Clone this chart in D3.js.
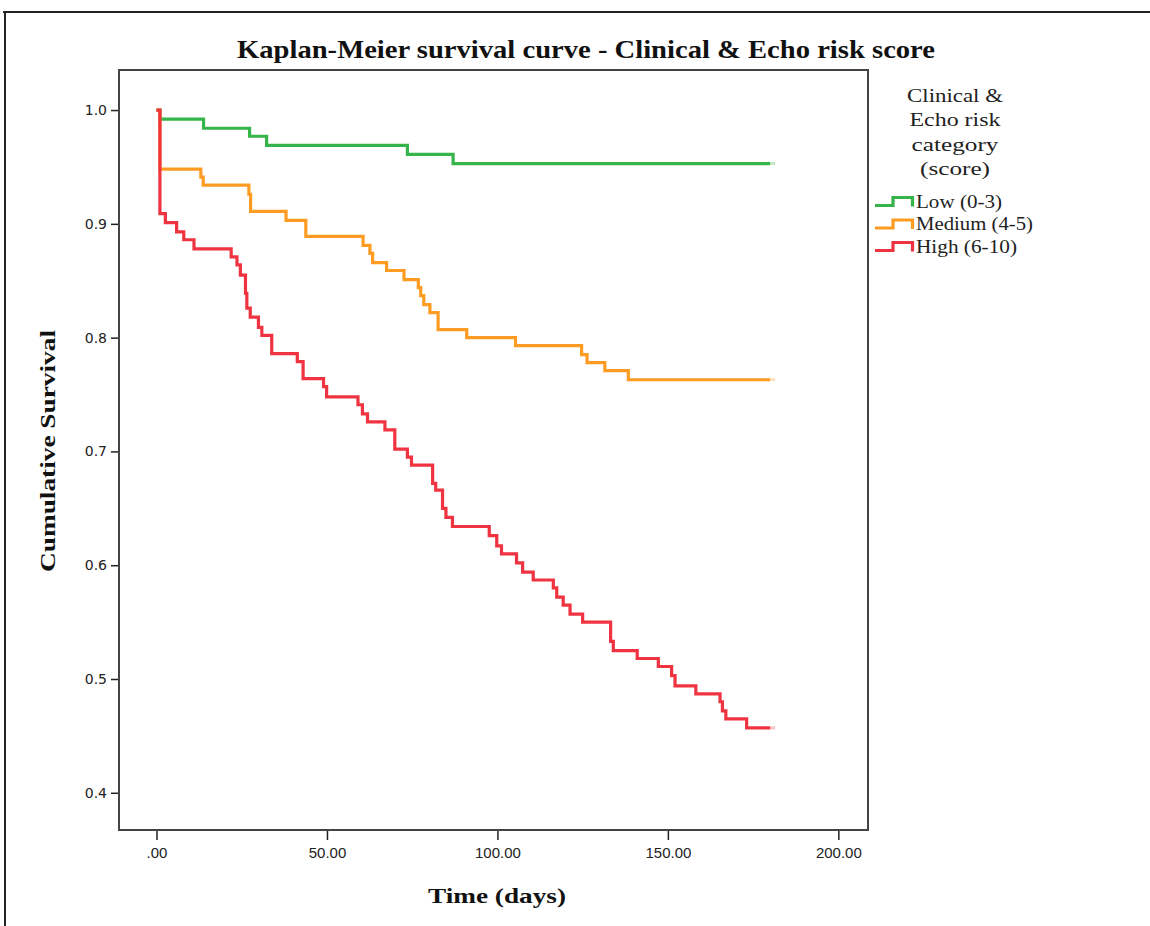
<!DOCTYPE html>
<html><head><meta charset="utf-8">
<script src="https://cdn.jsdelivr.net/npm/d3@7"></script>
<style>body{margin:0;background:#fff}svg{display:block}</style>
</head><body><svg id="c" width="1150" height="926"></svg>
<script>
// ---- data ----
const seriesNames = ["Low (0-3)", "Medium (4-5)", "High (6-10)"];
const seriesColors = ["#35b44a", "#fd9b23", "#ef3340"];
const lowTimes = [0, 1, 13.8, 27.3, 32.3, 73.6, 87, 180];
const lowSurv  = [1, 0.992, 0.984, 0.977, 0.969, 0.961, 0.953, 0.953];
const medTimes = [0, 1, 13, 13.7, 27.1, 27.6, 38, 43.8, 60.6, 62.6, 63.4, 67.5, 72.6, 76.8, 77.5, 78.4, 80.2, 82.6, 91, 105.3, 124.7, 126.3, 131.5, 138.4, 180];
const medSurv  = [1, 0.948, 0.941, 0.934, 0.926, 0.911, 0.903, 0.889, 0.881, 0.874, 0.866, 0.859, 0.851, 0.844, 0.837, 0.829, 0.822, 0.807, 0.800, 0.793, 0.785, 0.778, 0.771, 0.763, 0.763];
const highTimes = [0, 1, 2.6, 5.9, 8, 11, 21.9, 23.6, 24.6, 26.1, 26.5, 27.5, 29.9, 30.9, 33.8, 41.3, 43, 49, 49.9, 59.1, 60.4, 61.9, 67, 69.9, 73.6, 74.8, 81, 81.9, 83.9, 84.9, 86.8,
  97.6, 99.8, 101.2, 105.6, 107.4, 110.5, 116.4, 117.4, 119.3, 121.3, 125, 133.2, 134, 141, 147.2, 151.1, 152.1, 158.2, 165.3, 166, 167, 173.1, 180];
const highSurv  = [1, 0.909, 0.901, 0.893, 0.886, 0.878, 0.871, 0.864, 0.855, 0.839, 0.826, 0.818, 0.809, 0.802, 0.786, 0.779, 0.764, 0.757, 0.748, 0.741, 0.733, 0.726, 0.719, 0.702, 0.695, 0.688, 0.672, 0.666, 0.650, 0.642, 0.634,
  0.626, 0.617, 0.610, 0.602, 0.594, 0.587, 0.580, 0.572, 0.565, 0.557, 0.550, 0.533, 0.525, 0.518, 0.511, 0.503, 0.494, 0.487, 0.480, 0.472, 0.465, 0.457, 0.457];
const xTicks = [0, 50, 100, 150, 200];
const xTickLabels = [".00", "50.00", "100.00", "150.00", "200.00"];
const yTicks = [0.4, 0.5, 0.6, 0.7, 0.8, 0.9, 1.0];
const title = "Kaplan-Meier survival curve - Clinical & Echo risk score";
const xTitle = "Time (days)";
const yTitle = "Cumulative Survival";
const legendTitle = ["Clinical &", "Echo risk", "category", "(score)"];

// ---- layout ----
const svg = d3.select("#c");
const L = 119, T = 70, R = 868, B = 830;
const x = d3.scaleLinear().domain([-11, 208.7]).range([L, R]);
const y = d3.scaleLinear().domain([0.3673, 1.0352]).range([B, T]);
const serif = "'Liberation Serif','Times New Roman',serif";

// outer border
svg.append("line").attr("x1", 3).attr("x2", 1150).attr("y1", 12).attr("y2", 12).attr("stroke", "#222").attr("stroke-width", 2);
svg.append("line").attr("x1", 5).attr("x2", 5).attr("y1", 12).attr("y2", 926).attr("stroke", "#222").attr("stroke-width", 2);

// title
svg.append("text").attr("x", 586).attr("y", 58).attr("text-anchor", "middle")
  .attr("font-family", serif).attr("font-weight", "bold").attr("font-size", 25)
  .attr("textLength", 698).attr("lengthAdjust", "spacingAndGlyphs").attr("fill", "#111").text(title);

// axes
const yAxis = d3.axisLeft(y).tickValues(yTicks).tickFormat(d3.format(".1f")).tickSize(8).tickPadding(4);
const gy = svg.append("g").attr("transform", `translate(${L},0)`).call(yAxis);
gy.select(".domain").remove();
gy.selectAll("line").attr("stroke", "#222").attr("stroke-width", 1.5);
gy.selectAll("text").attr("font-family", "'DejaVu Sans',Verdana,sans-serif").attr("font-size", 14).attr("fill", "#222");

const xAxis = d3.axisBottom(x).tickValues(xTicks).tickFormat((d, i) => xTickLabels[i]).tickSize(10).tickPadding(7);
const gx = svg.append("g").attr("transform", `translate(0,${B})`).call(xAxis);
gx.select(".domain").remove();
gx.selectAll("line").attr("stroke", "#222").attr("stroke-width", 1.5);
gx.selectAll("text").attr("font-family", "'Liberation Sans',Arial,sans-serif").attr("font-size", 15).attr("fill", "#222");

// frame
svg.append("rect").attr("x", L).attr("y", T).attr("width", R - L).attr("height", B - T)
  .attr("fill", "none").attr("stroke", "#444").attr("stroke-width", 2);

// axis titles
svg.append("text").attr("x", 497).attr("y", 903).attr("text-anchor", "middle")
  .attr("font-family", serif).attr("font-weight", "bold").attr("font-size", 22)
  .attr("textLength", 138).attr("lengthAdjust", "spacingAndGlyphs").attr("fill", "#111").text(xTitle);
svg.append("text").attr("transform", "translate(55,451) rotate(-90)").attr("text-anchor", "middle")
  .attr("font-family", serif).attr("font-weight", "bold").attr("font-size", 22)
  .attr("textLength", 242).attr("lengthAdjust", "spacingAndGlyphs").attr("fill", "#111").text(yTitle);

// curves
const series = [
  {name: seriesNames[0], color: seriesColors[0], pts: lowTimes.map((t, i) => [t, lowSurv[i]])},
  {name: seriesNames[1], color: seriesColors[1], pts: medTimes.map((t, i) => [t, medSurv[i]])},
  {name: seriesNames[2], color: seriesColors[2], pts: highTimes.map((t, i) => [t, highSurv[i]])}
];
const line = d3.line().x(d => x(d[0])).y(d => y(d[1])).curve(d3.curveStepAfter);
series.forEach(s => {
  svg.append("path").attr("d", line(s.pts)).attr("fill", "none").attr("stroke", s.color)
    .attr("stroke-width", 3.2).attr("stroke-linejoin", "miter");
  const last = s.pts[s.pts.length - 1];
  svg.append("line").attr("x1", x(last[0])).attr("x2", x(last[0]) + 5)
    .attr("y1", y(last[1])).attr("y2", y(last[1])).attr("stroke", s.color).attr("stroke-opacity", 0.3).attr("stroke-width", 3);
});

// legend
const ltLens = [96, 91, 87, 70];
legendTitle.forEach((t, i) => {
  svg.append("text").attr("x", 955).attr("y", 102 + i * 24.3).attr("text-anchor", "middle")
    .attr("font-family", serif).attr("font-size", 19).attr("fill", "#222")
    .attr("textLength", ltLens[i]).attr("lengthAdjust", "spacingAndGlyphs").text(t);
});
const liLens = [86, 117, 101];
series.forEach((s, i) => {
  const yb = 205.5 + i * 22.5;
  svg.append("path").attr("d", `M875,${yb}H893V${yb - 8}H912.5V${yb + 1}`)
    .attr("fill", "none").attr("stroke", s.color).attr("stroke-width", 3.2);
  svg.append("text").attr("x", 916).attr("y", yb + 2).attr("font-family", serif).attr("font-size", 19)
    .attr("fill", "#222").attr("textLength", liLens[i]).attr("lengthAdjust", "spacingAndGlyphs").text(s.name);
});
</script>
</body></html>
